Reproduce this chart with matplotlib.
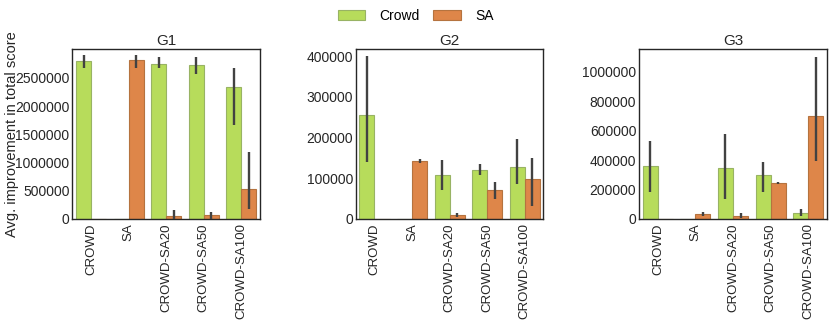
import numpy as np
import matplotlib.pyplot as plt

categories = ['CROWD', 'SA', 'CROWD-SA20', 'CROWD-SA50', 'CROWD-SA100']
groups = ['G1', 'G2', 'G3']
series = ['Crowd', 'SA']

# means, lower and upper CI per group (nan = no bar)
crowd_mean = {
    'G1': [2796000, np.nan, 2748000, 2730000, 2335000],
    'G2': [256000, np.nan, 108000, 121000, 128000],
    'G3': [360000, np.nan, 344000, 297000, 41000],
}
crowd_lo = {
    'G1': [2670000, np.nan, 2670000, 2570000, 1667000],
    'G2': [140000, np.nan, 70000, 107000, 87000],
    'G3': [181000, np.nan, 136000, 186000, 18000],
}
crowd_hi = {
    'G1': [2900000, np.nan, 2870000, 2870000, 2680000],
    'G2': [400000, np.nan, 146000, 136000, 197000],
    'G3': [533000, np.nan, 578000, 388000, 70000],
}
sa_mean = {
    'G1': [np.nan, 2810000, 48000, 71000, 527000],
    'G2': [np.nan, 142700, 10000, 71000, 98000],
    'G3': [np.nan, 34000, 20000, 245000, 701000],
}
sa_lo = {
    'G1': [np.nan, 2680000, 0, 0, 172000],
    'G2': [np.nan, 137000, 5000, 50000, 31000],
    'G3': [np.nan, 22000, 5000, 240000, 392000],
}
sa_hi = {
    'G1': [np.nan, 2900000, 160000, 119000, 1190000],
    'G2': [np.nan, 148000, 15000, 91000, 149000],
    'G3': [np.nan, 50000, 41000, 252000, 1102000],
}
ylims = {'G1': 3014000, 'G2': 418000, 'G3': 1156000}
yticks = {
    'G1': [0, 500000, 1000000, 1500000, 2000000, 2500000],
    'G2': [0, 100000, 200000, 300000, 400000],
    'G3': [0, 200000, 400000, 600000, 800000, 1000000],
}

colors = ['#b7dc5b', '#de8649']
edges = ['#98b364', '#b5733f']

plt.rcParams['font.family'] = ['Liberation Sans', 'DejaVu Sans']
fig, axes = plt.subplots(1, 3, figsize=(8.31, 3.22), dpi=100)
x = np.arange(len(categories))
w = 0.4

for ax, g in zip(axes, groups):
    data = [(crowd_mean[g], crowd_lo[g], crowd_hi[g]),
            (sa_mean[g], sa_lo[g], sa_hi[g])]
    for i, (m, lo, hi) in enumerate(data):
        xs = x - w / 2 + i * w
        m = np.array(m, dtype=float)
        ax.bar(xs, np.nan_to_num(m), w, color=colors[i], edgecolor=edges[i],
               linewidth=0.8, label=series[i])
        ax.vlines(xs, lo, hi, color='#424242', linewidth=1.7, zorder=3)
    ax.set_xlim(-0.5, len(categories) - 0.5)
    ax.set_ylim(0, ylims[g])
    ax.set_yticks(yticks[g])
    ax.set_yticklabels([str(t) for t in yticks[g]])
    ax.set_xticks(x)
    ax.set_xticklabels(categories, rotation=90, fontsize=9.5)
    ax.tick_params(axis='y', labelsize=10, length=0, pad=2, colors='#262626')
    ax.tick_params(axis='x', length=0, pad=3, colors='#262626')
    ax.set_title(g, fontsize=11, pad=3, color='#262626')
    for s in ax.spines.values():
        s.set_color('#262626')
        s.set_linewidth(1.0)

axes[0].set_ylabel('Avg. improvement in total score', fontsize=10.5,
                   color='#262626')
axes[0].yaxis.set_label_coords(-0.283, 0.5)
handles, labels = axes[0].get_legend_handles_labels()
fig.legend(handles, labels, loc='upper center', ncol=2, frameon=False,
           fontsize=10, bbox_to_anchor=(0.5, 1.012), handlelength=2.0,
           handletextpad=1.0, columnspacing=1.0)

fig.subplots_adjust(left=0.087, right=0.995, top=0.848, bottom=0.32,
                    wspace=0.51)
plt.savefig('out.png')
plt.close('all')
